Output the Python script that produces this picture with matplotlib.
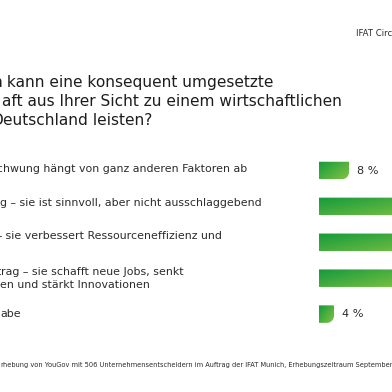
import numpy as np
import matplotlib
matplotlib.use("Agg")
import matplotlib.pyplot as plt
from matplotlib.path import Path
from matplotlib.patches import PathPatch
from matplotlib.transforms import Affine2D
from matplotlib.colors import to_rgb

# ---------------- data ----------------
header = "IFAT Circular Economy"
title_lines = [
    ("n", " kann eine konsequent umgesetzte"),
    ("", "aft aus Ihrer Sicht zu einem wirtschaftlichen"),
    ("D", "eutschland leisten?"),
]
category_lines = [
    [("sc", "hwung hängt von ganz anderen Faktoren ab")],
    [("", "g – sie ist sinnvoll, aber nicht ausschlaggebend")],
    [("–", " sie verbessert Ressourceneffizienz und")],
    [("t", "rag – sie schafft neue Jobs, senkt"), ("", "en und stärkt Innovationen")],
    [("", "abe")],
]
values = [8, 31, 32, 25, 4]
footnote = ("r", "hebung von YouGov mit 506 Unternehmensentscheidern im Auftrag der IFAT Munich, "
                 "Erhebungszeitraum September 2025")

# ---------------- layout ----------------
W = H = 392
FONT = "DejaVu Sans"
TXT = "#2b2b2b"
C0, C1 = np.array(to_rgb("#149a3c")), np.array(to_rgb("#82c442"))

fig = plt.figure(figsize=(3.92, 3.92), dpi=100)
fig.patch.set_facecolor("white")
px = Affine2D().scale(1 / W, -1 / H).translate(0, 1) + fig.transFigure
renderer = fig.canvas.get_renderer()


def fit_size(s, target_w, weight="normal"):
    t = fig.text(0, 0, s, fontsize=10, family=FONT, weight=weight)
    w = t.get_window_extent(renderer).width
    t.remove()
    return 10 * target_w / w


def put(x, y, prefix, rest, size, color=TXT, weight="normal"):
    if prefix:
        fig.text(x, y, prefix, transform=px, ha="right", va="baseline",
                 fontsize=size, family=FONT, color=color, weight=weight)
    fig.text(x, y, rest, transform=px, ha="left", va="baseline",
             fontsize=size, family=FONT, color=color, weight=weight)


# header
hs = fit_size("IFAT Circ", 36)
fig.text(356, 36, header, transform=px, ha="left", va="baseline",
         fontsize=hs, family=FONT, color=TXT)

# title
ts = fit_size(title_lines[1][1], 338)
title_x = [2, 2, 3]
title_y = [87, 106, 125]
for (pre, rest), x, y in zip(title_lines, title_x, title_y):
    put(x, y, pre, rest, ts, color="#1d1d1b")

# category labels
cs = fit_size(category_lines[0][0][1], 244)
lab_pos = [[(3, 172)], [(0, 206)], [(2, 239)], [(1, 275), (0, 288)], [(0, 317)]]
for lines, poss in zip(category_lines, lab_pos):
    for (pre, rest), (x, y) in zip(lines, poss):
        put(x, y, pre, rest, cs)

# footnote
fs = fit_size("hebung von YouGov mit 506 Unternehmensentscheidern im Auftrag der IFAT Munich, "
              "Erhebungszeitraum September", 384)
put(3, 367, footnote[0], footnote[1], fs)

# ---------------- bars ----------------
ppu = 3.75          # pixels per percent
x0_px = 319
row_px = 35.9
top_px = 170.5 - row_px / 2
n = len(values)
ax = fig.add_axes([x0_px / W, 1 - (top_px + n * row_px) / H,
                   (W - x0_px) / W, n * row_px / H])
xmax = (W - x0_px) / ppu
ax.set_xlim(0, xmax)
ax.set_ylim(n - 0.5, -0.5)
ax.axis("off")

bh = 17.5 / row_px
rx = 7 / ppu
ry = 7 / row_px
k = 0.5523


def bar_path(w, c):
    yt, yb = c - bh / 2, c + bh / 2
    r_x = min(rx, w)
    verts = [(0, yt), (w, yt), (w, yb - ry),
             (w, yb - ry + k * ry), (w - r_x + k * r_x, yb), (w - r_x, yb),
             (0, yb), (0, yt)]
    codes = [Path.MOVETO, Path.LINETO, Path.LINETO,
             Path.CURVE4, Path.CURVE4, Path.CURVE4,
             Path.LINETO, Path.CLOSEPOLY]
    return Path(verts, codes)


gx, gy = 200, 40
u = np.linspace(0, 1, gx)[None, :]
v = np.linspace(0, 1, gy)[:, None]
t = (0.55 * u + 0.45 * v)
img = C0[None, None, :] * (1 - t[..., None]) + C1[None, None, :] * t[..., None]

for i, val in enumerate(values):
    p = bar_path(val, i)
    patch = PathPatch(p, facecolor="none", edgecolor="none")
    ax.add_patch(patch)
    im = ax.imshow(img, extent=(0, val, i + bh / 2, i - bh / 2), origin="upper",
                   aspect="auto", interpolation="bilinear", zorder=2)
    im.set_clip_path(patch)
    lx = val + 8 / ppu
    if lx < xmax:
        ax.text(lx, i, f"{val} %", va="center", ha="left",
                fontsize=cs * 1.02, family=FONT, color=TXT, clip_on=True)

ax.set_xlim(0, xmax)
ax.set_ylim(n - 0.5, -0.5)

fig.savefig("out.png", dpi=100, facecolor="white")
